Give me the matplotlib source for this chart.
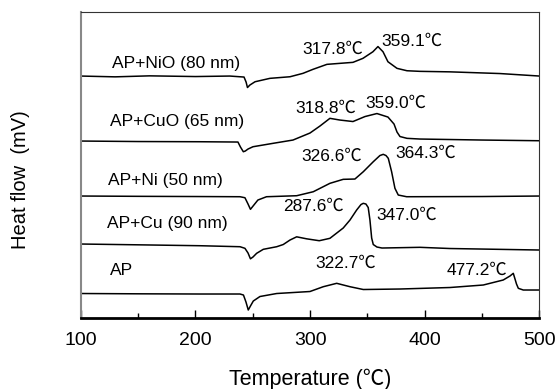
import matplotlib
matplotlib.use('Agg')
import matplotlib.pyplot as plt
from matplotlib.ticker import MultipleLocator

plt.rcParams['font.family'] = ['Liberation Sans', 'Noto Sans CJK SC']

# DSC-kurvor, temperatur (°C) och förskjuten värmeflödessignal
t_nio = [100, 130, 160, 200, 230, 242.4, 244.2, 245.4, 247.5, 252, 265, 282.5, 293.8, 302.5,
         314.7, 326, 337.4, 346.1, 354.8, 359.2, 363.6, 367.9, 375.8, 384.5, 395.8, 422, 465.6, 500]
y_nio = [242, 241.2, 242.2, 241.5, 242, 241, 236, 230.5, 233, 236.3, 239.7, 241.3, 244.7, 248.7,
         253.7, 254.7, 255.7, 259.7, 266.3, 271.5, 266.3, 256.3, 249.7, 247.3, 246.7, 246.2, 244.5, 242]

t_cuo = [100, 150, 204, 237.1, 239.3, 241.8, 243.5, 245.9, 250.2, 267.7, 285.1, 299.9, 308.6,
         317.3, 326, 337.4, 347.9, 358.3, 367.9, 373.2, 375.8, 378.4, 384.5, 395.8, 450, 500]
y_cuo = [177, 176.5, 176.3, 176, 171, 166.3, 167, 169, 171.3, 174.7, 178, 185, 192,
         199.7, 198, 196.5, 201.5, 204.5, 201, 194, 186, 181.5, 179.7, 179, 178, 177.3]

t_ni = [100, 150, 200, 238.9, 243.2, 245.9, 248, 251, 254.5, 262, 288.3, 302.8, 317.3, 328.9,
        339.1, 346.4, 355.1, 360.9, 363.8, 366.2, 368.2, 371.1, 374, 376.9, 384.2, 450, 500]
y_ni = [122, 121.7, 121.5, 121.3, 120.3, 114, 108.7, 113, 118, 121.3, 122.3, 126.3, 134.7, 138.7,
        139, 146.3, 156.3, 162.5, 163.7, 162.5, 159.7, 146.3, 129.7, 123, 121.3, 121.5, 122]

t_cu = [100, 150, 204, 238.9, 243.2, 245.9, 248, 250.2, 253.4, 259.2, 270.9, 276.6, 282.5, 288.3,
        297, 308, 317.3, 328.9, 334.8, 340.6, 344.4, 346.4, 348.7, 350.7, 352.2, 353.7, 355.1,
        358.3, 362.7, 395.8, 422, 500]
y_cu = [74, 73.2, 72.3, 71.3, 69.7, 65, 59.2, 61, 64.7, 68.7, 71.3, 73.5, 78, 81.2,
        79.2, 77.3, 79.7, 90, 98, 108, 113.5, 114.7, 114, 110.5, 98, 80, 73.5,
        71, 70, 70.7, 69.5, 68]

t_ap = [100, 150, 204, 238.9, 241.9, 244.1, 246.1, 248, 250.5, 256.3, 270.9, 299.9, 311.5, 323.2,
        334.8, 346.4, 378.4, 422, 451, 468.4, 474.3, 477.2, 478.7, 480, 481.6, 485.9, 500]
y_ap = [24.5, 24.2, 24, 24, 23, 16, 8, 12, 17, 21.5, 24.5, 26.5, 31.3, 34.7,
        31.3, 28.5, 29, 30.5, 33, 38, 42, 44.7, 39, 34, 29.7, 28, 28]

namn = ['AP+NiO (80 nm)', 'AP+CuO (65 nm)', 'AP+Ni (50 nm)', 'AP+Cu (90 nm)', 'AP']
namn_x = [127.3, 125.5, 123.8, 122.7, 125.5]
namn_y = [255, 197, 138, 94.7, 47.3]

topp_text = ['317.8℃', '359.1℃', '318.8℃', '359.0℃', '326.6℃', '364.3℃',
             '287.6℃', '347.0℃', '322.7℃', '477.2℃']
topp_x = [293.5, 362.4, 286.8, 347.9, 292, 374, 276.6, 357.5, 304.3, 419.1]
topp_y = [269, 276.3, 209.7, 214.5, 161.3, 164.7, 111.3, 103, 54.7, 48]

fig = plt.figure(figsize=(5.59, 3.89), dpi=100)
ax = fig.add_axes([0.1444, 0.1825, 0.8206, 0.7865])

for t, y in [(t_nio, y_nio), (t_cuo, y_cuo), (t_ni, y_ni), (t_cu, y_cu), (t_ap, y_ap)]:
    ax.plot(t, y, color='black', lw=1.1)

for s, x, y in zip(namn, namn_x, namn_y):
    ax.text(x, y, s, fontsize=12.5, ha='left', va='center')
for s, x, y in zip(topp_text, topp_x, topp_y):
    ax.text(x, y, s, fontsize=12.5, ha='left', va='center')

ax.set_xlim(100, 500)
ax.set_ylim(0, 306)
ax.xaxis.set_major_locator(MultipleLocator(100))
ax.xaxis.set_minor_locator(MultipleLocator(50))
ax.set_yticks([])
ax.tick_params(axis='x', which='major', direction='in', length=6, width=1, labelsize=14, pad=10)
ax.tick_params(axis='x', which='minor', direction='in', length=3.6, width=1)
ax.spines['bottom'].set_linewidth(2)
ax.spines['left'].set_color('#888888')
ax.spines['left'].set_linewidth(1.5)
ax.spines['top'].set_color('#333333')
ax.spines['right'].set_color('#333333')
ax.set_xlabel('Temperature (℃)', fontsize=15.5)
ax.set_ylabel('Heat flow  (mV)', fontsize=14.5)
ax.xaxis.set_label_coords(0.5, -0.2)
ax.yaxis.set_label_coords(-0.132, 0.451)
ax.xaxis.label.set_va('center')
ax.yaxis.label.set_va('center')

fig.savefig('out.png', dpi=100)
